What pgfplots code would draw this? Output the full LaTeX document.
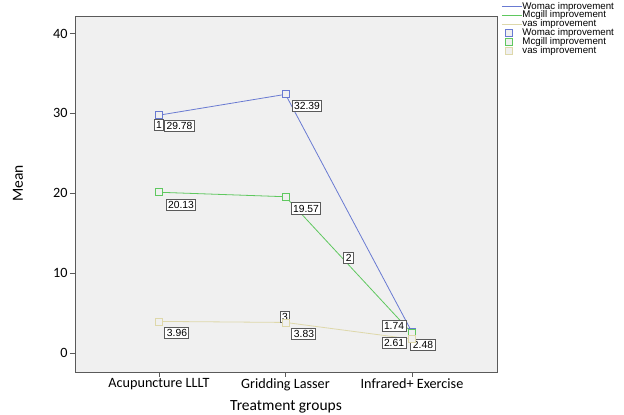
\documentclass[border=0pt]{standalone}
\usepackage{pgfplots}
\pgfplotsset{compat=1.18}
\usepackage{fontspec}
\setmainfont{Carlito}
\newfontfamily\arialf{Liberation Sans}
\definecolor{cblue}{RGB}{105,122,210}
\definecolor{cgreen}{RGB}{95,200,95}
\definecolor{cbeige}{RGB}{222,216,170}
\definecolor{bg}{RGB}{240,240,240}
\definecolor{frame}{RGB}{90,90,90}
\pgfplotsset{
  linelegend/.style={legend image code/.code={\draw[##1] (0pt,0pt) -- (20pt,0pt);}},
  marklegend/.style={legend image code/.code={\draw[##1] plot coordinates {(7pt,0pt)};}},
}
\begin{document}
\begin{tikzpicture}[x=1pt,y=1pt]
\path[use as bounding box] (-75,-43) rectangle (549,372);
\begin{axis}[
  at={(0,0)}, anchor=south west,
  scale only axis, width=422pt, height=356pt,
  xmin=-0.664, xmax=2.672, ymin=-2.375, ymax=42.2,
  axis background/.style={fill=bg},
  axis line style={frame, line width=0.8pt},
  xtick={0,1,2}, xticklabels={Acupuncture LLLT, Gridding Lasser, Infrared+ Exercise},
  ytick={0,10,20,30,40},
  tick align=outside, major tick length=5pt,
  tick style={frame, line width=0.6pt},
  xtick pos=bottom, ytick pos=left,
  /pgf/number format/assume math mode=true,
  ticklabel style={font=\fontsize{14.2}{16}\selectfont, text=black},
  yticklabel style={xshift=1pt},
  xticklabel style={yshift=2pt},
  xlabel={Treatment groups}, ylabel={Mean},
  label style={font=\fontsize{15.5}{17}\selectfont},
  xlabel style={at={(axis description cs:0.5,-0.098)}, anchor=center},
  ylabel style={at={(axis description cs:-0.135,0.53)}, anchor=center},
  legend cell align=left,
  legend style={at={(1.003,1.045)}, anchor=north west, draw=none, fill=none,
    font=\arialf\fontsize{9.7}{9.7}\selectfont,
    nodes={inner sep=0.2pt, text height=6.8pt, text depth=1.6pt},
    row sep=0pt},
  clip=false,
]
\addplot[cblue, line width=0.8pt, linelegend] coordinates {(0,29.78) (1,32.39) (2,2.61)};
\addlegendentry{Womac improvement}
\addplot[cgreen, line width=0.8pt, linelegend] coordinates {(0,20.13) (1,19.57) (2,2.48)};
\addlegendentry{Mcgill improvement}
\addplot[cbeige, line width=0.8pt, linelegend] coordinates {(0,3.96) (1,3.83) (2,1.74)};
\addlegendentry{vas improvement}
\addplot[only marks, mark=square*, mark size=3.5pt, mark options={draw=cblue, fill=bg, line width=0.8pt}, marklegend] coordinates {(0,29.78) (1,32.39) (2,2.61)};
\addlegendentry{Womac improvement}
\addplot[only marks, mark=square*, mark size=3.5pt, mark options={draw=cgreen, fill=bg, line width=0.8pt}, marklegend] coordinates {(0,20.13) (1,19.57) (2,2.48)};
\addlegendentry{Mcgill improvement}
\addplot[only marks, mark=square*, mark size=3.5pt, mark options={draw=cbeige, fill=bg, line width=0.8pt}, marklegend] coordinates {(0,3.96) (1,3.83) (2,1.74)};
\addlegendentry{vas improvement}
\tikzset{lbl/.style={draw=frame, fill=white, line width=1pt, inner sep=2pt, font=\arialf\fontsize{10.3}{11}\selectfont}}
\node[lbl] at (axis cs:0,28.6) {1};
\node[lbl] at (axis cs:0.162,28.4) {29.78};
\node[lbl] at (axis cs:1.17,30.9) {32.39};
\node[lbl] at (axis cs:0.174,18.5) {20.13};
\node[lbl] at (axis cs:1.162,18.1) {19.57};
\node[lbl] at (axis cs:1.50,11.9) {2};
\node[lbl] at (axis cs:0.142,2.5) {3.96};
\node[lbl] at (axis cs:0.996,4.5) {3};
\node[lbl] at (axis cs:1.146,2.4) {3.83};
\node[lbl] at (axis cs:1.858,3.4) {1.74};
\node[lbl] at (axis cs:1.858,1.25) {2.61};
\node[lbl] at (axis cs:2.087,1.0) {2.48};
\end{axis}
\end{tikzpicture}
\end{document}
